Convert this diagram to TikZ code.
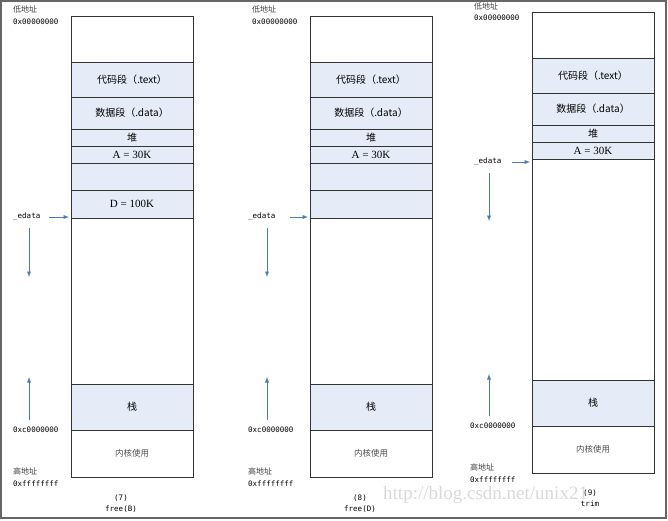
\documentclass[tikz,border=0pt]{standalone}
\usepackage{fontspec}
\setmainfont{Liberation Serif}
\setmonofont{DejaVu Sans Mono}
\newfontfamily\cjk{Noto Sans CJK SC}
\definecolor{seg}{HTML}{E6ECF7}
\definecolor{arr}{HTML}{4A7AB5}
\begin{document}
\begin{tikzpicture}[x=1pt,y=-1pt,
 blk/.style={draw=black!80,line width=0.6pt},
 fl/.style={blk,fill=seg},
 txt/.style={font=\fontsize{11}{11}\selectfont},
 ct/.style={font=\cjk\fontsize{10}{10}\selectfont},
 ks/.style={font=\cjk\fontsize{8.5}{9}\selectfont,text=black!70},
 lab/.style={anchor=west,inner sep=0pt,font=\ttfamily\fontsize{7.5}{8}\selectfont},
 clab/.style={anchor=west,inner sep=0pt,font=\cjk\fontsize{8}{8}\selectfont,text=black!75},
 captxt/.style={inner sep=0pt,font=\ttfamily\fontsize{7.5}{8}\selectfont},
 ar/.style={draw=arr,line width=0.9pt,-latex}]
\useasboundingbox (0,0) rectangle (668,520);
\draw[black!60,line width=1.2pt] (1,1) rectangle (666,518);
\foreach \xa/\xb in {71/193,310/432}{
 \draw[blk] (\xa,16) rectangle (\xb,62);
 \draw[fl] (\xa,62) rectangle (\xb,97) node[midway,ct]{代码段（.text）};
 \draw[fl] (\xa,97) rectangle (\xb,129) node[midway,ct]{数据段（.data）};
 \draw[fl] (\xa,129) rectangle (\xb,146) node[midway,ct]{堆};
 \draw[fl] (\xa,146) rectangle (\xb,163) node[midway,txt]{A = 30K};
 \draw[fl] (\xa,163) rectangle (\xb,190);
 \draw[blk] (\xa,218) rectangle (\xb,384);
 \draw[fl] (\xa,384) rectangle (\xb,430) node[midway,ct]{栈};
 \draw[blk] (\xa,430) rectangle (\xb,477) node[midway,ks]{内核使用};
}
\draw[fl] (71,190) rectangle (193,218) node[midway,txt]{D = 100K};
\draw[fl] (310,190) rectangle (432,218);
\draw[blk] (532,12) rectangle (654,58);
\draw[fl] (532,58) rectangle (654,93) node[midway,ct]{代码段（.text）};
\draw[fl] (532,93) rectangle (654,125) node[midway,ct]{数据段（.data）};
\draw[fl] (532,125) rectangle (654,142) node[midway,ct]{堆};
\draw[fl] (532,142) rectangle (654,159) node[midway,txt]{A = 30K};
\draw[blk] (532,159) rectangle (654,380);
\draw[fl] (532,380) rectangle (654,426) node[midway,ct]{栈};
\draw[blk] (532,426) rectangle (654,473) node[midway,ks]{内核使用};
% col1
\node[clab] (l1) at (13,9) {低地址};
\node[lab] (z1) at (13,22) {0x00000000};
\node[lab] (e1) at (13,217) {\_edata};
\coordinate (e1a) at (49,217); \coordinate (e1b) at (69,217);
\draw[ar] (e1a) -- (e1b);
\coordinate (d1a) at (29,228); \coordinate (d1b) at (29,277);
\draw[ar] (d1a) -- (d1b);
\coordinate (u1a) at (29,420); \coordinate (u1b) at (29,377);
\draw[ar] (u1a) -- (u1b);
\node[lab] (c1) at (13,430) {0xc0000000};
\node[clab] (h1) at (13,471) {高地址};
\node[lab] (f1) at (13,484) {0xffffffff};
\node[captxt] (n1) at (121,498) {(7)};
\node[captxt] (m1) at (121,509) {free(B)};
% col2
\node[clab] (l2) at (252,9) {低地址};
\node[lab] (z2) at (252,22) {0x00000000};
\node[lab] (e2) at (248,217) {\_edata};
\coordinate (e2a) at (290,217); \coordinate (e2b) at (308,217);
\draw[ar] (e2a) -- (e2b);
\coordinate (d2a) at (267,228); \coordinate (d2b) at (267,277);
\draw[ar] (d2a) -- (d2b);
\coordinate (u2a) at (267,420); \coordinate (u2b) at (267,377);
\draw[ar] (u2a) -- (u2b);
\node[lab] (c2) at (248,430) {0xc0000000};
\node[clab] (h2) at (248,471) {高地址};
\node[lab] (f2) at (248,484) {0xffffffff};
\node[captxt] (n2) at (360,498) {(8)};
\node[captxt] (m2) at (360,509) {free(D)};
% col3
\node[clab] (l3) at (474,6) {低地址};
\node[lab] (z3) at (474,18) {0x00000000};
\node[lab] (e3) at (474,162) {\_edata};
\coordinate (e3a) at (512,162); \coordinate (e3b) at (530,162);
\draw[ar] (e3a) -- (e3b);
\coordinate (d3a) at (489,173); \coordinate (d3b) at (489,221);
\draw[ar] (d3a) -- (d3b);
\coordinate (u3a) at (489,416); \coordinate (u3b) at (489,374);
\draw[ar] (u3a) -- (u3b);
\node[lab] (c3) at (470,426) {0xc0000000};
\node[clab] (h3) at (470,467) {高地址};
\node[lab] (f3) at (470,480) {0xffffffff};
\node[captxt] (n3) at (590,493) {(9)};
\node[captxt] (m3) at (590,504) {trim};
\node[anchor=west,inner sep=0pt,text=black!15,font=\fontsize{19}{19}\selectfont] (w) at (383,495) {http://blog.csdn.net/unix21};
\end{tikzpicture}
\end{document}
